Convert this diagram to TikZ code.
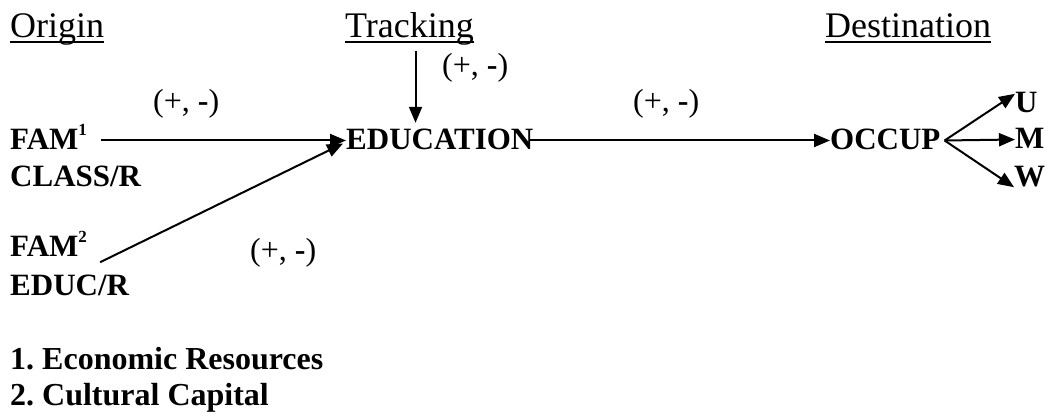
\documentclass[tikz,border=0pt]{standalone}
\usepackage{fontspec}
\setmainfont{Liberation Serif}
\usetikzlibrary{arrows.meta, positioning}
\newcommand{\headline}[1]{\setbox0\hbox{#1}\rlap{\usebox0}\rule[-5pt]{\wd0}{1.8pt}}
\newcommand{\supnum}[1]{\raisebox{14pt}{\fontsize{17}{17}\selectfont #1}}

\begin{document}
\begin{tikzpicture}[x=1pt, y=-1pt,
    title/.style={anchor=base west, inner sep=0pt, font=\fontsize{36}{43}\selectfont},
    var/.style={anchor=base west, inner sep=0pt, text height=19pt, text depth=0pt, font=\bfseries\fontsize{31}{37}\selectfont},
    note/.style={var, font=\bfseries\fontsize{32}{38}\selectfont},
    sign/.style={anchor=base west, inner sep=0pt, font=\fontsize{32}{38}\selectfont},
    arrow/.style={line width=2pt, -{Triangle[length=16pt,width=13pt]}}]
    \useasboundingbox (0,0) rectangle (1047,414);

    % headings
    \node[title] (origin) at (10,38) {\headline{Origin}};
    \node[title] (track) at (345,38) {\headline{Tracking}};
    \node[title] (dest) at (825,38) {\headline{Destination}};

    % variables
    \node[var] (fam1) at (10,150) {FAM\supnum{1}};
    \node[var] (class) at (10,187) {CLASS/R};
    \node[var] (fam2) at (10,257) {FAM\supnum{2}};
    \node[var] (educ) at (10,295) {EDUC/R};
    \node[var] (edu) at (346,150) {EDUCATION};
    \node[var] (occup) at (830,150) {OCCUP};
    \node[var] (u) at (1015,113) {U};
    \node[var] (m) at (1015,149) {M};
    \node[var] (w) at (1014,187) {W};

    % signs of the effects
    \node[sign] (s1) at (153,112) {(+, \textbf{-})};
    \node[sign] (s2) at (442,76) {(+, \textbf{-})};
    \node[sign] (s3) at (633,112) {(+, \textbf{-})};
    \node[sign] (s4) at (250,261) {(+, \textbf{-})};

    % notes
    \node[note] (note1) at (10,369) {1.\ Economic Resources};
    \node[note] (note2) at (10,405) {2.\ Cultural Capital};

    \coordinate (trk) at ([xshift=6pt,yshift=-13pt]track.base);
    \coordinate (fork) at ([xshift=4pt]occup.east);

    \draw[arrow] ([xshift=14pt]fam1.east) -- (edu.west);
    \draw[arrow] ([xshift=13pt,yshift=-5pt]fam2.south east) -- ([xshift=-3pt,yshift=-3pt]edu.west);
    \draw[arrow, shorten >=8pt] (trk) -- (trk |- edu.north);
    \draw[arrow] ([xshift=-4pt]edu.east) -- (occup.west);
    \draw[arrow] (fork) -- (u.north west);
    \draw[arrow] (fork) -- (m.west);
    \draw[arrow] (fork) -- (w.south west);
\end{tikzpicture}
\end{document}
